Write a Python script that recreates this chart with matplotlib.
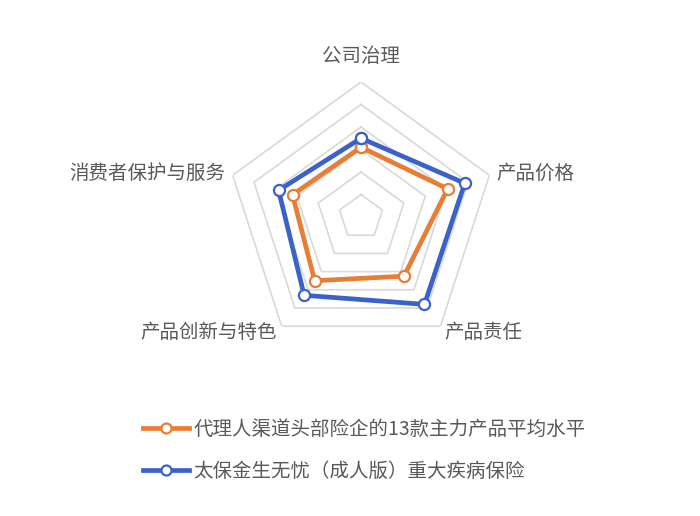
import matplotlib
matplotlib.use('Agg')
import matplotlib.pyplot as plt
import numpy as np

plt.rcParams['font.family'] = ['Noto Sans CJK SC', 'DejaVu Sans']

categories = ['公司治理', '产品价格', '产品责任', '产品创新与特色', '消费者保护与服务']
avg_name = '代理人渠道头部险企的13款主力产品平均水平'
avg_values = [3.1, 4.05, 3.25, 3.5, 3.2]
cpic_name = '太保金生无忧（成人版）重大疾病保险'
cpic_values = [3.5, 4.85, 4.8, 4.3, 3.85]
levels = [1, 2, 3, 4, 5, 6]

ORANGE = '#E87D36'
BLUE = '#3B62C9'
GRID = '#D9D9D9'
TEXT = '#595959'

n = len(categories)
angles = np.linspace(0, 2 * np.pi, n, endpoint=False)
closed = np.append(angles, angles[0])

fig = plt.figure(figsize=(7, 5.16), dpi=100)
ax = fig.add_axes([226 / 700, 164 / 516, 270 / 700, 270 / 516], projection='polar')
ax.set_theta_offset(np.pi / 2)
ax.set_theta_direction(-1)
ax.set_ylim(0, 6)
ax.set_xticks([])
ax.set_yticks([])
ax.grid(False)
ax.spines['polar'].set_visible(False)
ax.patch.set_visible(False)

# pentagon grid rings
for lv in levels:
    ax.plot(closed, [lv] * (n + 1), color=GRID, lw=1.2, zorder=1)

def draw_series(vals, color, label):
    v = list(vals) + [vals[0]]
    line, = ax.plot(closed, v, color=color, lw=3.4, marker='o', markersize=8,
                    markerfacecolor='white', markeredgecolor=color,
                    markeredgewidth=1.6, label=label, zorder=3)
    return line

h1 = draw_series(avg_values, ORANGE, avg_name)
h2 = draw_series(cpic_values, BLUE, cpic_name)

# category labels
for i, (a, name) in enumerate(zip(angles, categories)):
    if i == 0:
        ax.text(a, 7.15, name, ha='center', va='center', fontsize=14, color=TEXT)
    elif i in (1, 2):
        ax.text(a, 6.33, name, ha='left', va='center', fontsize=14, color=TEXT)
    else:
        ax.text(a, 6.33, name, ha='right', va='center', fontsize=14, color=TEXT)

leg = fig.legend(handles=[h1, h2], loc='upper left',
                 bbox_to_anchor=(143 / 700, 1 - 419 / 516),
                 frameon=False, fontsize=14, handlelength=2.35,
                 handletextpad=0.25, labelspacing=1.05, borderpad=0,
                 borderaxespad=0, numpoints=1, markerscale=0.9)
for t in leg.get_texts():
    t.set_color(TEXT)

fig.savefig('out.png', dpi=100, facecolor='white')
